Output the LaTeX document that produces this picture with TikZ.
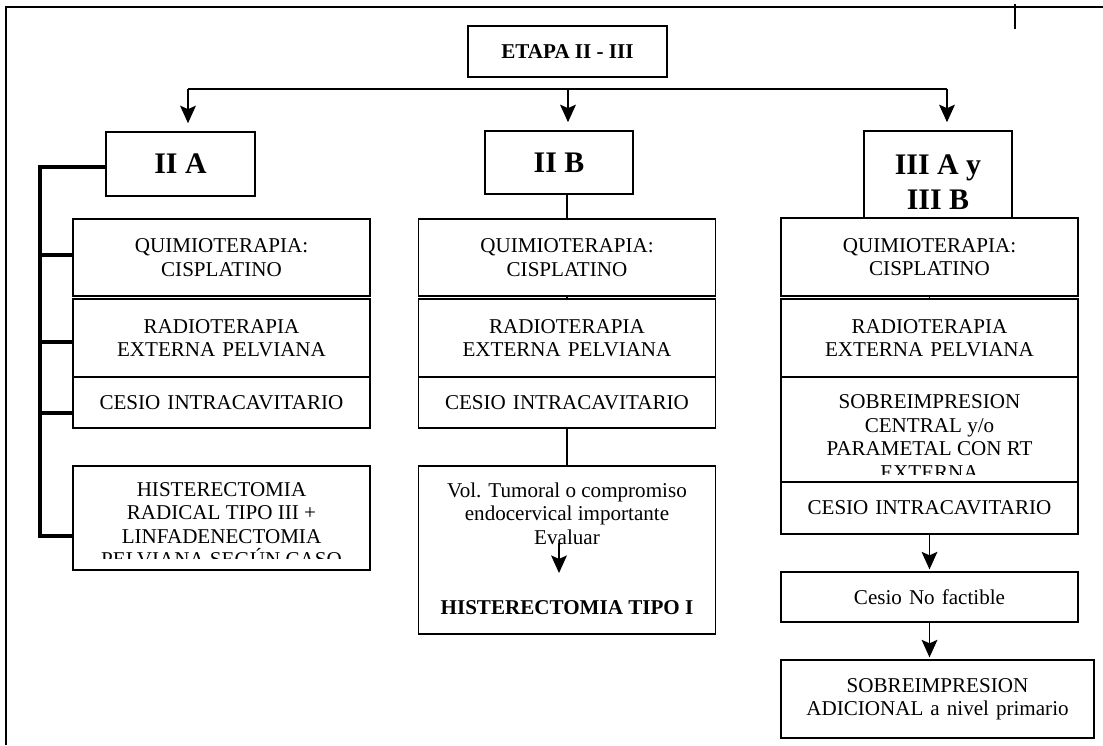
\documentclass[tikz,border=0pt]{standalone}
\usepackage{fontspec}
\setmainfont{Liberation Serif}
\usetikzlibrary{arrows.meta}

\begin{document}
\begin{tikzpicture}[x=0.02cm, y=-0.02cm]

		\tikzstyle{box} = [draw=black, line width=1pt, align=center, inner sep=0pt, font=\fontsize{12}{13.3}\selectfont]
		\tikzstyle{col} = [box, text width=5.8cm, minimum width=5.94cm]
		\tikzstyle{head} = [box, font=\fontsize{17}{20}\selectfont\bfseries]
		\tikzstyle{txt} = [align=center, inner sep=0pt, font=\fontsize{12}{13.3}\selectfont]
		\tikzstyle{edge} = [-{Stealth[length=10pt, width=9pt, inset=2pt]}, line width=0.7pt]
		\tikzstyle{link} = [line width=0.7pt]
		\tikzstyle{bracket} = [line width=1.8pt]
		\tikzstyle{frame} = [line width=1.1pt]

		\useasboundingbox (0,0) rectangle (1103,745);

		% marco de la hoja
		\draw[frame] (1103,7) -- (6,7) -- (6,745);
		\draw[frame] (1015,4) -- (1015,29);

		\node[box, font=\fontsize{12}{14}\selectfont\bfseries, minimum width=3.98cm, minimum height=1.02cm](etapa) at (567.5,51.5){ETAPA II - III};

		\node[head, minimum width=2.98cm, minimum height=1.28cm](iia) at (180.5,164){II A};
		\node[head, minimum width=2.96cm, minimum height=1.26cm](iib) at (559,162.5){II B};
		\node[head, minimum width=2.96cm, minimum height=1.74cm](iiiab) at (938,174.5){};
		\node[txt, font=\fontsize{17}{20}\selectfont\bfseries] at ([yshift=-0.16cm]iiiab.center){III A y\\III B};

		% II A
		\node[col, minimum height=1.54cm](qa) at (221.5,257.5){QUIMIOTERAPIA:\\CISPLATINO};
		\node[col, minimum height=1.56cm](ra) at (221.5,338){RADIOTERAPIA\\EXTERNA PELVIANA};
		\node[col, minimum height=1.02cm](ca) at (221.5,402.5){CESIO INTRACAVITARIO};
		\node[col, minimum height=2.08cm](ha) at (221.5,518){};
		\begin{scope}
			\clip (ha.north west) rectangle ([yshift=0.24cm]ha.south east);
			\node[txt] at ([yshift=-0.13cm]ha.center){HISTERECTOMIA\\RADICAL TIPO III +\\LINFADENECTOMIA\\PELVIANA SEGÚN CASO};
		\end{scope}

		% II B
		\node[col, minimum height=1.54cm](qb) at (567,257.5){QUIMIOTERAPIA:\\CISPLATINO};
		\node[col, minimum height=1.56cm](rb) at (567,338){RADIOTERAPIA\\EXTERNA PELVIANA};
		\node[col, minimum height=1.02cm](cb) at (567,402.5){CESIO INTRACAVITARIO};
		\node[col, minimum height=3.36cm](vb) at (567,550){};
		\node[txt](vol) at (567,513.5){Vol. Tumoral o compromiso\\endocervical importante\\Evaluar};
		\node[txt, font=\fontsize{12}{13.3}\selectfont\bfseries](htipo) at (567,608){HISTERECTOMIA TIPO I};
		\coordinate (eva) at (559,543);
		\coordinate (evb) at (559,573);

		% III A y III B
		\node[col, minimum height=1.56cm](qc) at (929.5,257){QUIMIOTERAPIA:\\CISPLATINO};
		\node[col, minimum height=1.56cm](rc) at (929.5,338){RADIOTERAPIA\\EXTERNA PELVIANA};
		\node[col, minimum height=2.10cm](sc) at (929.5,429.5){};
		\begin{scope}
			\clip (sc.north west) rectangle ([yshift=0.16cm]sc.south east);
			\node[txt] at ([yshift=-0.15cm]sc.center){SOBREIMPRESION\\CENTRAL y/o\\PARAMETAL CON RT\\EXTERNA};
		\end{scope}
		\node[col, minimum height=1.04cm](cc) at (929.5,508){CESIO INTRACAVITARIO};
		\node[col, minimum height=1.00cm](nf) at (929.5,597){Cesio No factible};
		\node[box, text width=6.1cm, minimum width=6.26cm, minimum height=1.56cm](sa) at (937.5,699){SOBREIMPRESION\\ADICIONAL a nivel primario};

		% reparto desde la etapa
		\coordinate (bl) at (188,89);
		\coordinate (bm) at (568,89);
		\coordinate (br) at (947,89);
		\draw[link] (bl) -- (br);
		\foreach \c/\n in {bl/iia, bm/iib, br/iiiab}
			\draw[edge, shorten >=4.5pt] (\c) -- (\c |- \n.north);

		% llave de II A
		\draw[bracket] (iia.west |- 0,167) -- (40,167) -- (40,536) -- (ha.west |- 0,536);
		\foreach \n/\y in {qa/255, ra/342, ca/413}
			\draw[bracket] (40,\y) -- (\n.west |- 0,\y);

		\draw[link] (qb.north) -- (qb.north |- iib.south);
		\draw[link] (qb.south) -- (rb.north);
		\draw[link] (cb.south) -- (vb.north);
		\draw[edge] (eva) -- (evb);

		\draw[link] (qc.south) -- (rc.north);
		\draw[edge, shorten >=1pt] (cc.south) -- (nf.north);
		\draw[edge, shorten >=1pt] (nf.south) -- (nf.south |- sa.north);

\end{tikzpicture}
\end{document}
